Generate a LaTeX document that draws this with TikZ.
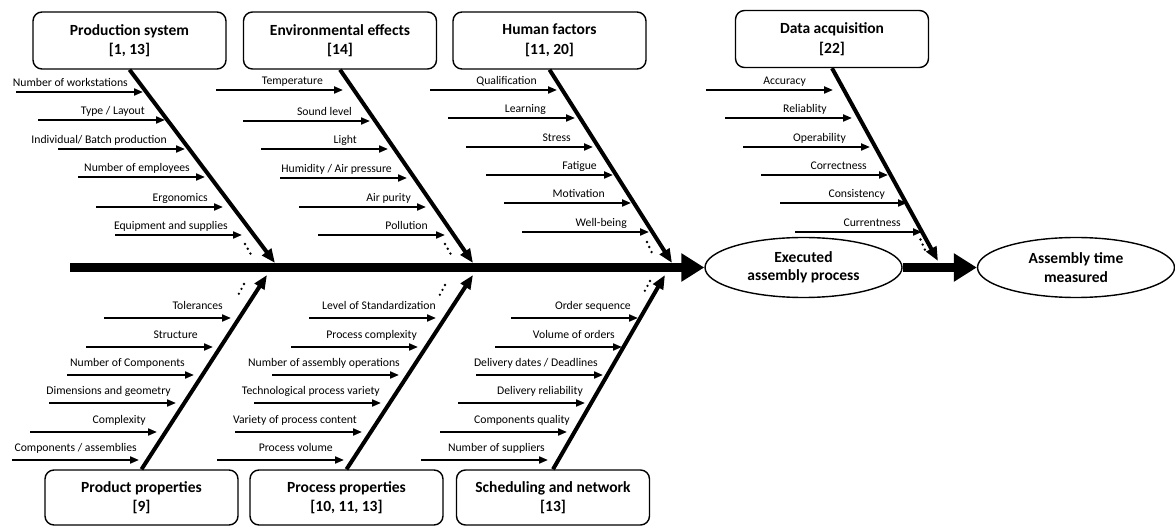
\documentclass[tikz,border=0pt]{standalone}
\usepackage{fontspec}
\setmainfont{Carlito}
\usetikzlibrary{arrows.meta, shapes.geometric}

\begin{document}
\begin{tikzpicture}[x=1pt, y=-1pt,
    catbox/.style={draw, line width=1.4pt, rounded corners=9pt, fill=white, minimum width=193pt, minimum height=57pt, inner sep=2pt, align=center, font=\fontsize{15.5}{19.5}\selectfont\bfseries},
    effect/.style={draw, ellipse, line width=1.4pt, minimum width=197pt, minimum height=60pt, inner sep=0pt, align=center, font=\fontsize{15.5}{18.5}\selectfont\bfseries},
    spine/.style={line width=9pt, -{Triangle[length=23pt, width=27pt]}},
    bone/.style={line width=4pt, -{Triangle[length=14pt, width=11pt]}},
    cause/.style={line width=2pt, -{Triangle[length=9pt, width=7pt]}},
    lbl/.style={anchor=base east, inner sep=0pt, font=\fontsize{11.7}{14}\selectfont},
    moredots/.style={line width=2.6pt, line cap=round, dash pattern=on 0pt off 5.5pt}]
    \useasboundingbox (0,0) rectangle (1175,526);

    % Effects
    \node[effect] (exec) at (803.5,267.5) {Executed\\assembly process};
    \node[effect] (measured) at (1076,267.5) {Assembly time\\measured};
    \coordinate (spinestart) at (70,267.5);
    \draw[spine] (spinestart) -- (exec.west);
    \draw[spine] (exec.east) -- (measured.west);

    % Category boxes, top row
    \node[catbox] (prodsys) at (129.5,40.5) {Production system\\{[1, 13]}};
    \node[catbox] (envfx) at (340,40.5) {Environmental effects\\{[14]}};
    \node[catbox] (human) at (549.5,40.5) {Human factors\\{[11, 20]}};
    \node[catbox] (dataacq) at (832,39) {Data acquisition\\{[22]}};

    % Category boxes, bottom row
    \node[catbox, minimum height=55pt] (product) at (141.5,497.5) {Product properties\\{[9]}};
    \node[catbox, minimum height=55pt] (process) at (346.5,497.5) {Process properties\\{[10, 11, 13]}};
    \node[catbox, minimum height=55pt] (sched) at (553,497.5) {Scheduling and network\\{[13]}};

    % Bones onto the spine
    \coordinate (ps-tip) at (275,263);
    \coordinate (env-tip) at (473,263);
    \coordinate (hum-tip) at (672,263);
    \coordinate (dat-tip) at (938,261);
    \coordinate (prd-tip) at (267,275);
    \coordinate (prc-tip) at (473,275);
    \coordinate (sch-tip) at (665,275);
    \draw[bone] (prodsys.south) -- (ps-tip);
    \draw[bone] (envfx.south) -- (env-tip);
    \draw[bone] (human.south) -- (hum-tip);
    \draw[bone] (dataacq.south) -- (dat-tip);
    \draw[bone] (product.north) -- (prd-tip);
    \draw[bone] (process.north) -- (prc-tip);
    \draw[bone] (sched.north) -- (sch-tip);

    % Causes: arrow end / height / right edge of label / label
    \foreach \xe/\yy/\xr/\txt [count=\i] in {143/92/128/{Number of workstations}, 165/120/145/{Type / Layout}, 185/149/167/{Individual/ Batch production}, 205/177/190/{Number of employees}, 223/207/208/{Ergonomics}, 242/235/228/{Equipment and supplies}}{
        \coordinate (ps-a\i) at (\xe-127,\yy);
        \coordinate (ps-b\i) at (\xe,\yy);
        \draw[cause] (ps-a\i) -- (ps-b\i);
        \node[lbl] (ps-l\i) at (\xr,\yy-5.5) {\txt};
    }
    \foreach \xe/\yy/\xr/\txt [count=\i] in {343/90/323/{Temperature}, 370/121/352/{Sound level}, 388/149/357/{Light}, 407/178/392/{Humidity / Air pressure}, 426/207/411/{Air purity}, 445/235/428/{Pollution}}{
        \coordinate (env-a\i) at (\xe-127,\yy);
        \coordinate (env-b\i) at (\xe,\yy);
        \draw[cause] (env-a\i) -- (env-b\i);
        \node[lbl] (env-l\i) at (\xr,\yy-5.5) {\txt};
    }
    \foreach \xe/\yy/\xr/\txt [count=\i] in {557/90/537/{Qualification}, 575/118/546/{Learning}, 593/147/571/{Stress}, 613/175/597/{Fatigue}, 631/203/605/{Motivation}, 649/232/627/{Well-being}}{
        \coordinate (hum-a\i) at (\xe-127,\yy);
        \coordinate (hum-b\i) at (\xe,\yy);
        \draw[cause] (hum-a\i) -- (hum-b\i);
        \node[lbl] (hum-l\i) at (\xr,\yy-5.5) {\txt};
    }
    \foreach \xe/\yy/\xr/\txt [count=\i] in {833/90/806/{Accuracy}, 852/118/827/{Reliablity}, 870/147/846/{Operability}, 888/175/867/{Correctness}, 907/203/885/{Consistency}, 922/232/901/{Currentness}}{
        \coordinate (dat-a\i) at (\xe-127,\yy);
        \coordinate (dat-b\i) at (\xe,\yy);
        \draw[cause] (dat-a\i) -- (dat-b\i);
        \node[lbl] (dat-l\i) at (\xr,\yy-5.5) {\txt};
    }
    \foreach \xe/\yy/\xr/\txt [count=\i] in {231/318/223/{Tolerances}, 213/347/198/{Structure}, 194/375/185/{Number of Components}, 176/403/171/{Dimensions and geometry}, 157/432/146/{Complexity}, 139/460/137/{Components / assemblies}}{
        \coordinate (prd-a\i) at (\xe-127,\yy);
        \coordinate (prd-b\i) at (\xe,\yy);
        \draw[cause] (prd-a\i) -- (prd-b\i);
        \node[lbl] (prd-l\i) at (\xr,\yy-8.5) {\txt};
    }
    \foreach \xe/\yy/\xr/\txt [count=\i] in {436/318/436/{Level of Standardization}, 418/347/417/{Process complexity}, 399/375/400/{Number of assembly operations}, 381/403/380/{Technological process variety}, 362/432/357/{Variety of process content}, 344/460/333/{Process volume}}{
        \coordinate (prc-a\i) at (\xe-127,\yy);
        \coordinate (prc-b\i) at (\xe,\yy);
        \draw[cause] (prc-a\i) -- (prc-b\i);
        \node[lbl] (prc-l\i) at (\xr,\yy-8.5) {\txt};
    }
    \foreach \xe/\yy/\xr/\txt [count=\i] in {638/318/631/{Order sequence}, 622/347/615/{Volume of orders}, 603/375/598/{Delivery dates / Deadlines}, 585/403/583/{Delivery reliability}, 567/432/570/{Components quality}, 548/460/545/{Number of suppliers}}{
        \coordinate (sch-a\i) at (\xe-127,\yy);
        \coordinate (sch-b\i) at (\xe,\yy);
        \draw[cause] (sch-a\i) -- (sch-b\i);
        \node[lbl] (sch-l\i) at (\xr,\yy-8.5) {\txt};
    }

    % More causes
    \draw[moredots] (245,244) -- (251,254.5);
    \draw[moredots] (445,244) -- (451,254.5);
    \draw[moredots] (647,242) -- (652,253);
    \draw[moredots] (920.5,239.5) -- (925,250);
    \draw[moredots] (244,284) -- (238.5,294.5);
    \draw[moredots] (445,285) -- (439.5,295.5);
    \draw[moredots] (650,281) -- (644.5,291.5);
\end{tikzpicture}
\end{document}
